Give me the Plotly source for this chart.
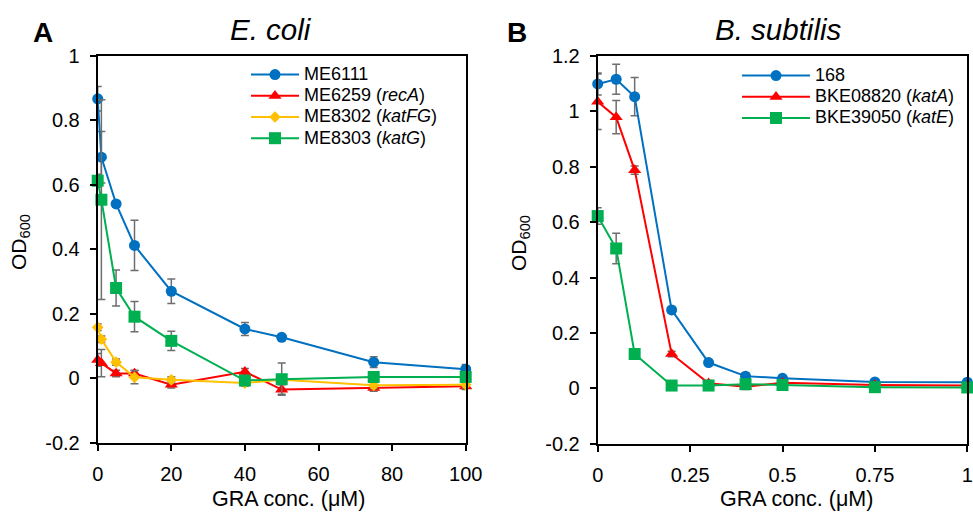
import plotly.graph_objects as go

# ---- Panel A: E. coli strains ----
conc_ecoli = [0, 1, 5, 10, 20, 40, 50, 75, 100]
me6111 = [0.867, 0.686, 0.541, 0.412, 0.270, 0.153, 0.127, 0.050, 0.028]
me6111_sd = [0.038, 0.080, 0.010, 0.078, 0.038, 0.020, 0.008, 0.017, 0.015]
me6259 = [0.057, 0.047, 0.015, 0.015, -0.020, 0.020, -0.035, -0.030, -0.025]
me6259_sd = [0.020, 0.042, 0.010, 0.010, 0.010, 0.010, 0.015, 0.010, 0.010]
me8302 = [0.158, 0.121, 0.050, 0.003, -0.005, -0.015, -0.005, -0.022, -0.020]
me8302_sd = [0.010, 0.010, 0.010, 0.020, 0.010, 0.010, 0.010, 0.010, 0.010]
me8303 = [0.613, 0.554, 0.280, 0.191, 0.116, -0.007, -0.003, 0.004, 0.004]
me8303_sd = [0.020, 0.310, 0.056, 0.047, 0.030, 0.010, 0.050, 0.010, 0.010]

# ---- Panel B: B. subtilis strains ----
conc_bsub = [0, 0.05, 0.1, 0.2, 0.3, 0.4, 0.5, 0.75, 1]
bs168 = [1.099, 1.116, 1.053, 0.283, 0.093, 0.044, 0.036, 0.023, 0.022]
bs168_sd = [0.040, 0.054, 0.069, 0.010, 0.010, 0.010, 0.005, 0.005, 0.005]
bke08820 = [1.035, 0.979, 0.788, 0.124, 0.018, 0.006, 0.020, 0.012, 0.010]
bke08820_sd = [0.100, 0.060, 0.015, 0.010, 0.010, 0.010, 0.010, 0.005, 0.005]
bke39050 = [0.622, 0.505, 0.124, 0.010, 0.010, 0.015, 0.012, 0.004, 0.003]
bke39050_sd = [0.030, 0.055, 0.010, 0.005, 0.005, 0.005, 0.005, 0.005, 0.005]

# ---- tick labels ----
xa_ticks = [0, 20, 40, 60, 80, 100]
xa_text = ["0", "20", "40", "60", "80", "100"]
ya_ticks = [-0.2, 0, 0.2, 0.4, 0.6, 0.8, 1]
ya_text = ["-0.2", "0", "0.2", "0.4", "0.6", "0.8", "1"]
xb_ticks = [0, 0.25, 0.5, 0.75, 1]
xb_text = ["0", "0.25", "0.5", "0.75", "1"]
yb_ticks = [-0.2, 0, 0.2, 0.4, 0.6, 0.8, 1, 1.2]
yb_text = ["-0.2", "0", "0.2", "0.4", "0.6", "0.8", "1", "1.2"]

BLUE, RED, YELLOW, GREEN = "#0070C0", "#FF0000", "#FFC000", "#00B050"
ERR = "#6E6E6E"
FONT = "Liberation Sans, Arial, sans-serif"
W, H = 973, 513


def label(text):
    # legend rows use a compact line pitch, the label itself is set larger
    return '<span style="font-size:18px">' + text + "</span>"


def series(x, y, sd, name, color, symbol, size, xa, ya, legend):
    return go.Scatter(
        x=x, y=y, name=label(name), mode="lines+markers",
        line=dict(color=color, width=2),
        marker=dict(color=color, symbol=symbol, size=size),
        error_y=dict(type="data", array=sd, visible=True, color=ERR,
                     thickness=1.5, width=4),
        xaxis=xa, yaxis=ya, legend=legend, cliponaxis=False,
    )


fig = go.Figure()
fig.add_trace(series(conc_ecoli, me6111, me6111_sd, "ME6111", BLUE, "circle", 11, "x", "y", "legend"))
fig.add_trace(series(conc_ecoli, me6259, me6259_sd, "ME6259 (<i>recA</i>)", RED, "triangle-up", 11.5, "x", "y", "legend"))
fig.add_trace(series(conc_ecoli, me8302, me8302_sd, "ME8302 (<i>katFG</i>)", YELLOW, "diamond", 9, "x", "y", "legend"))
fig.add_trace(series(conc_ecoli, me8303, me8303_sd, "ME8303 (<i>katG</i>)", GREEN, "square", 12, "x", "y", "legend"))

fig.add_trace(series(conc_bsub, bs168, bs168_sd, "168", BLUE, "circle", 11, "x2", "y2", "legend2"))
fig.add_trace(series(conc_bsub, bke08820, bke08820_sd, "BKE08820 (<i>katA</i>)", RED, "triangle-up", 11.5, "x2", "y2", "legend2"))
fig.add_trace(series(conc_bsub, bke39050, bke39050_sd, "BKE39050 (<i>katE</i>)", GREEN, "square", 12, "x2", "y2", "legend2"))

axis_common = dict(
    showline=True, linecolor="black", linewidth=2, mirror=True,
    ticks="outside", ticklen=6, tickwidth=1.5, tickcolor="black",
    showgrid=False, zeroline=False, automargin=False,
    tickfont=dict(family=FONT, size=20, color="black"),
)

fig.update_layout(
    width=W, height=H,
    margin=dict(l=0, r=0, t=0, b=0),
    paper_bgcolor="white", plot_bgcolor="white",
    font=dict(family=FONT, color="black"),
    xaxis=dict(domain=[97.7 / W, 465.7 / W], range=[0, 100],
               tickvals=xa_ticks, ticktext=xa_text, anchor="y",
               ticklabelstandoff=6, **axis_common),
    yaxis=dict(domain=[(H - 442.7) / H, (H - 56) / H], range=[-0.2, 1],
               tickvals=ya_ticks, ticktext=ya_text, anchor="x",
               ticklabelstandoff=6, **axis_common),
    xaxis2=dict(domain=[597.7 / W, 967.3 / W], range=[0, 1],
                tickvals=xb_ticks, ticktext=xb_text, anchor="y2",
                ticklabelstandoff=6, **axis_common),
    yaxis2=dict(domain=[(H - 443.7) / H, (H - 56) / H], range=[-0.2, 1.2],
                tickvals=yb_ticks, ticktext=yb_text, anchor="x2",
                ticklabelstandoff=6, **axis_common),
    legend=dict(x=246 / W, y=(H - 59) / H, xanchor="left", yanchor="top",
                bgcolor="rgba(0,0,0,0)", font=dict(family=FONT, size=14),
                itemwidth=48),
    legend2=dict(x=737 / W, y=(H - 60) / H, xanchor="left", yanchor="top",
                 bgcolor="rgba(0,0,0,0)", font=dict(family=FONT, size=14),
                 itemwidth=68),
)

annotations = [
    dict(text="<b>A</b>", x=42.5, y=32, size=28, angle=0, anchor="middle"),
    dict(text="<b>B</b>", x=517, y=32, size=28, angle=0, anchor="middle"),
    dict(text="<i>E. coli</i>", x=271, y=29, size=29.5, angle=0, anchor="middle"),
    dict(text="<i>B. subtilis</i>", x=778, y=29, size=29.5, angle=0, anchor="middle"),
    dict(text="GRA conc. (μM)", x=288, y=513, size=21.5, angle=0, anchor="bottom"),
    dict(text="GRA conc. (μM)", x=796, y=513, size=21.5, angle=0, anchor="bottom"),
    dict(text="OD<sub>600</sub>", x=20, y=242, size=21, angle=-90, anchor="middle"),
    dict(text="OD<sub>600</sub>", x=520, y=243, size=21, angle=-90, anchor="middle"),
]
for a in annotations:
    fig.add_annotation(
        text=a["text"], xref="paper", yref="paper",
        x=a["x"] / W, y=(H - a["y"]) / H, xanchor="center", yanchor=a["anchor"],
        showarrow=False, textangle=a["angle"],
        font=dict(family=FONT, size=a["size"], color="black"),
    )

fig.write_html("out.html")
